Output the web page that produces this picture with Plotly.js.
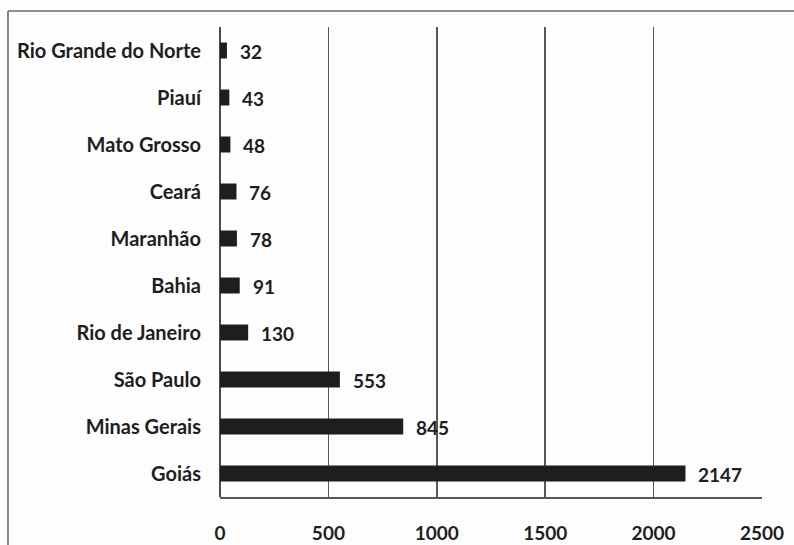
<!DOCTYPE html>
<html>
<head>
<meta charset="utf-8">
<script src="https://cdn.plot.ly/plotly-3.0.1.min.js"></script>
<style>
  html, body { margin: 0; padding: 0; background: #ffffff; }
  #chart { width: 794px; height: 545px; }
</style>
</head>
<body>
<div id="chart"></div>
<script>
// States, listed bottom to top as drawn on the category axis
const states = ["Goiás", "Minas Gerais", "São Paulo", "Rio de Janeiro", "Bahia",
                "Maranhão", "Ceará", "Mato Grosso", "Piauí", "Rio Grande do Norte"];
const counts = [2147, 845, 553, 130, 91, 78, 76, 48, 43, 32];
const xTicks = [0, 500, 1000, 1500, 2000, 2500];

const FONT = "Lato, 'Open Sans', sans-serif";
const INK = "#1e1e1e";

const bars = {
  type: "bar",
  orientation: "h",
  x: counts,
  y: states,
  width: 0.34,
  marker: { color: INK, line: { width: 0 } },
  hoverinfo: "x+y",
  cliponaxis: false
};

// value labels sit just right of each bar end
const valueLabels = counts.map((v, i) => ({
  x: v, y: states[i], xref: "x", yref: "y",
  text: String(v), showarrow: false,
  xanchor: "left", yanchor: "middle",
  xshift: 11, yshift: -1,
  font: { family: FONT, size: 19, color: INK, weight: 700 }
}));

const layout = {
  width: 794, height: 545,
  margin: { l: 220, r: 32, t: 27, b: 48, pad: 0 },
  paper_bgcolor: "#fdfdfd",
  plot_bgcolor: "#fdfdfd",
  showlegend: false,
  bargap: 0.66,
  xaxis: {
    range: [0, 2500],
    tickvals: xTicks,
    ticktext: xTicks.map(String),
    showgrid: true,
    gridcolor: "#585858",
    gridwidth: 1.7,
    zeroline: true,
    zerolinecolor: "#4a4a4a",
    zerolinewidth: 1.7,
    showline: true,
    linecolor: "#585858",
    linewidth: 1.7,
    ticks: "",
    ticklabelstandoff: 18,
    tickfont: { family: FONT, size: 19, color: INK, weight: 700 },
    fixedrange: true
  },
  yaxis: {
    categoryorder: "array",
    categoryarray: states,
    showgrid: false,
    showline: false,
    ticks: "",
    ticklabelstandoff: 18,
    tickfont: { family: FONT, size: 20, color: INK, weight: 700 },
    fixedrange: true
  },
  annotations: valueLabels,
  shapes: [
    // frame around the figure: top and left edges
    { type: "line", xref: "paper", yref: "paper",
      x0: (8 - 220) / 542, x1: (800 - 220) / 542,
      y0: 1 + (27 - 11) / 470, y1: 1 + (27 - 11) / 470,
      line: { color: "#6a6a6a", width: 1.6 } },
    { type: "line", xref: "paper", yref: "paper",
      x0: (8 - 220) / 542, x1: (8 - 220) / 542,
      y0: 1 + (27 - 11) / 470, y1: -1,
      line: { color: "#6a6a6a", width: 1.6 } }
  ]
};

Plotly.newPlot("chart", [bars], layout, { displayModeBar: false, staticPlot: true });
</script>
</body>
</html>
